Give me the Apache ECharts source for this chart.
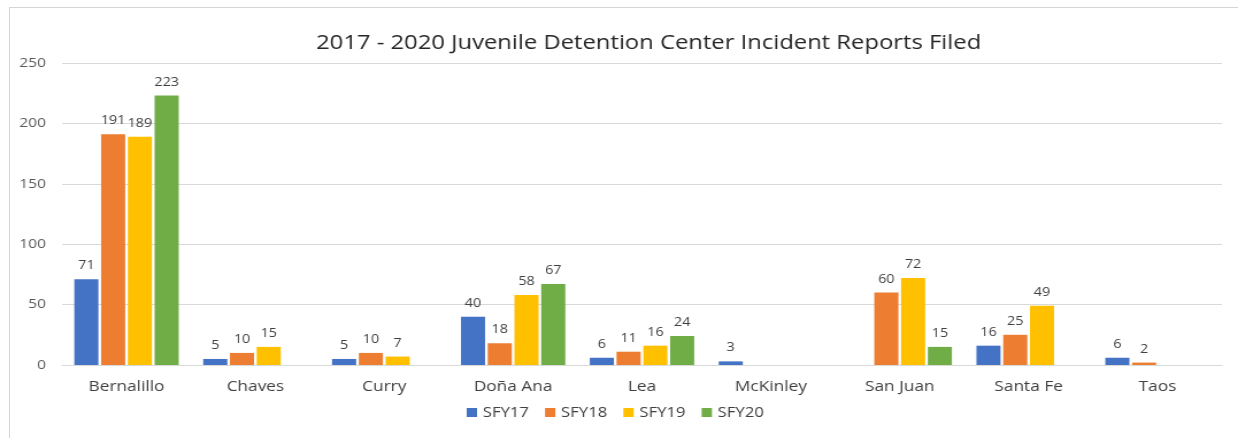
<!DOCTYPE html>
<html>
<head>
<meta charset="utf-8">
<style>
  html, body { margin: 0; padding: 0; background: #ffffff; overflow: hidden; }
  /* chart is laid out on a narrower canvas and widened to the page width */
  #chart { position: absolute; left: 0; top: 0; width: 1077px; height: 438px;
           transform: scaleX(1.1495); transform-origin: 0 0; }
  #frame { position: absolute; left: 9px; top: 7px; right: 0; bottom: 0;
           border-left: 1px solid #d4d4d4; border-top: 1px solid #d4d4d4; pointer-events: none; }
</style>
<script src="https://cdn.jsdelivr.net/npm/echarts@6/dist/echarts.min.js"></script>
</head>
<body>
<div id="chart"></div>
<div id="frame"></div>
<script>
// Incident reports filed per county, by state fiscal year
const counties = ['Bernalillo', 'Chaves', 'Curry', 'Doña Ana', 'Lea', 'McKinley', 'San Juan', 'Santa Fe', 'Taos'];
const sfy17 = [71, 5, 5, 40, 6, 3, null, 16, 6];
const sfy18 = [191, 10, 10, 18, 11, null, 60, 25, 2];
const sfy19 = [189, 15, 7, 58, 16, null, 72, 49, null];
const sfy20 = [223, null, null, 67, 24, null, 15, null, null];
const yTicks = [0, 50, 100, 150, 200, 250];

const seriesDefs = [
  { name: 'SFY17', data: sfy17, color: '#4472C4' },
  { name: 'SFY18', data: sfy18, color: '#ED7D31' },
  { name: 'SFY19', data: sfy19, color: '#FFC000' },
  { name: 'SFY20', data: sfy20, color: '#70AD47' }
];

const font = '"Open Sans", "Noto Sans", sans-serif';
const chart = echarts.init(document.getElementById('chart'), null, { renderer: 'canvas' });

chart.setOption({
  animation: false,
  textStyle: { fontFamily: font },
  title: {
    text: '2017 - 2020 Juvenile Detention Center Incident Reports Filed',
    left: 270,
    top: 28,
    textStyle: { fontFamily: font, fontSize: 20.7, fontWeight: 'normal', color: '#262626' }
  },
  legend: {
    bottom: 13,
    left: 401,
    itemWidth: 9,
    itemHeight: 9,
    itemGap: 14,
    icon: 'rect',
    textStyle: { fontFamily: font, fontSize: 14.5, color: '#404040' },
    data: seriesDefs.map(s => s.name)
  },
  grid: { left: 54, right: 14, top: 63, bottom: 73 },
  xAxis: {
    type: 'category',
    data: counties,
    axisLine: { show: true, lineStyle: { color: '#d9d9d9', width: 1 } },
    axisTick: { show: false },
    axisLabel: { fontFamily: font, fontSize: 15, color: '#404040', margin: 14 }
  },
  yAxis: {
    type: 'value',
    min: yTicks[0],
    max: yTicks[yTicks.length - 1],
    interval: yTicks[1] - yTicks[0],
    axisLine: { show: false },
    axisTick: { show: false },
    splitLine: { lineStyle: { color: '#d9d9d9', width: 1 } },
    axisLabel: { fontFamily: font, fontSize: 13.5, color: '#595959', margin: 14 }
  },
  series: seriesDefs.map(s => ({
    name: s.name,
    type: 'bar',
    data: s.data,
    barGap: '11%',
    barCategoryGap: '19%',
    itemStyle: { color: s.color },
    label: {
      show: true,
      position: 'top',
      distance: 7,
      fontFamily: font,
      fontSize: 12.5,
      color: '#404040'
    }
  }))
});
</script>
</body>
</html>
